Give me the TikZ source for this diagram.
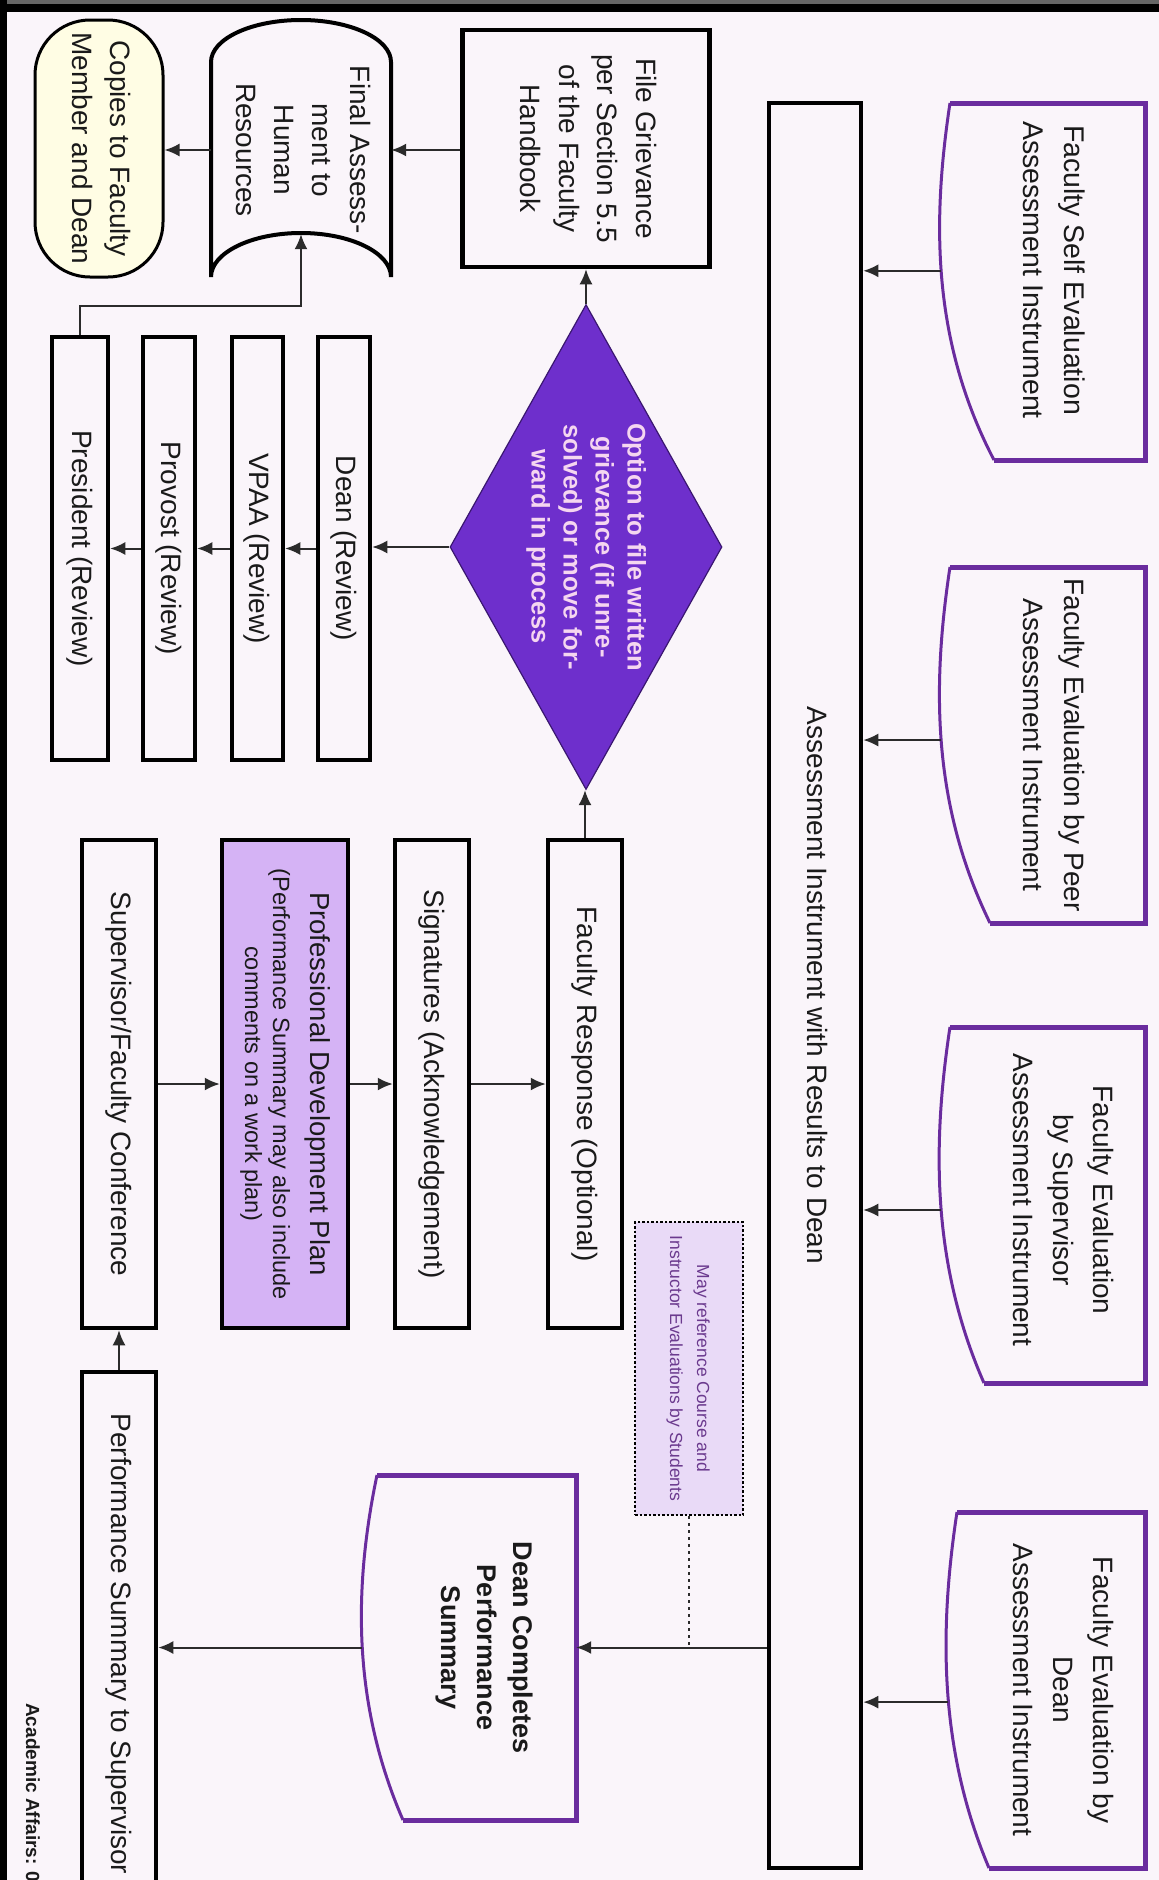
\documentclass[tikz,border=0pt]{standalone}
\usepackage{fontspec}
\setmainfont{Liberation Sans}
\usepackage{graphicx}
\usetikzlibrary{shapes.geometric,arrows.meta,calc}
\definecolor{bgc}{HTML}{FAF5FA}
\definecolor{linec}{HTML}{2B2B2B}
\definecolor{txtc}{HTML}{1A1A1A}
\definecolor{purpc}{HTML}{6A2C9E}
\definecolor{diafill}{HTML}{6E2FCC}
\definecolor{diaedge}{HTML}{3A1670}
\definecolor{diatext}{HTML}{F5D6F0}
\definecolor{pdpc}{HTML}{D5B3F5}
\definecolor{notec}{HTML}{E9DAF7}
\definecolor{notet}{HTML}{6B3A8E}
\definecolor{copiesc}{HTML}{FFFDE4}
\newcommand\fs[2]{\fontsize{#1}{#2}\selectfont}
\newcommand\rt[1]{\rotatebox[origin=c]{-90}{\begin{tabular}{@{}c@{}}#1\end{tabular}}}
\newcommand\docshape[8]{%
  \pgfmathsetmacro\docya{#2+(#3-#2)/3}%
  \pgfmathsetmacro\docyb{#2+2*(#3-#2)/3}%
  \pgfmathsetmacro\docxd{#1-#5}%
  \pgfmathsetmacro\docxe{#1+#6}%
  \fill[bgc] (#1,#2) -- (#4,#2) -- (#4,#3) -- (\docxe,#3) .. controls (\docxd,\docyb) and (\docxd,\docya) .. (#1,#2) -- cycle;
  \draw[docline] (#1,#2) -- (#4,#2) -- (#4,#3) -- (\docxe,#3);
  \draw[docwave] (#1,#2) .. controls (\docxd,\docya) and (\docxd,\docyb) .. (\docxe,#3) coordinate[pos=#7] (#8);
}
\begin{document}
\begin{tikzpicture}[x=1pt,y=-1pt,
  box/.style={draw=black, line width=4.5pt, fill=bgc, inner sep=0pt, rectangle, text=txtc},
  lbl/.style={inner sep=0pt, text=txtc},
  arr/.style={-{Latex[length=15pt,width=13pt]}, line width=2pt, draw=linec},
  docline/.style={draw=purpc, line width=5pt},
  docwave/.style={draw=purpc, line width=3pt},
  dotline/.style={draw=linec, line width=1.6pt, dash pattern=on 3pt off 4pt}]
\useasboundingbox (0,0) rectangle (1159,1880);
\clip (0,0) rectangle (1159,1880);
\fill[bgc] (0,0) rectangle (1159,1880);

% document shapes
\docshape{950}{103}{460}{1145}{18}{44}{0.47}{d1w}
\docshape{950}{567}{923}{1145}{18}{40}{0.486}{d2w}
\docshape{950}{1027}{1383}{1145}{18}{34}{0.514}{d3w}
\docshape{957}{1512}{1868}{1145}{18}{32}{0.534}{d4w}
\docshape{377}{1475}{1820}{576}{24}{26}{0.5}{dcw}

\node[lbl, font=\fs{28.5}{41}] (d1) at (1052,270) {\rt{Faculty Self Evaluation\\Assessment Instrument}};
\node[lbl, font=\fs{28}{41}] (d2) at (1052,745) {\rt{Faculty Evaluation by Peer\\Assessment Instrument}};
\node[lbl, font=\fs{28}{40}] (d3) at (1061,1200) {\rt{Faculty Evaluation\\by Supervisor\\Assessment Instrument}};
\node[lbl, font=\fs{28}{40}] (d4) at (1061,1690) {\rt{Faculty Evaluation by\\Dean\\Assessment Instrument}};
\node[lbl, minimum width=182pt, minimum height=345pt, font=\bfseries\fs{27}{36}] (dc) at (485,1647.5) {\rt{Dean Completes\\Performance\\Summary}};

% tall rectangle
\node[box, minimum width=92pt, minimum height=1765pt, font=\fs{28}{38}] (tall) at (815,985.5) {\rt{Assessment Instrument with Results to Dean}};

% grievance
\node[box, minimum width=247pt, minimum height=237pt, font=\fs{28}{38.5}] (fg) at (586,148.5) {\rt{File Grievance\\per Section 5.5\\of the Faculty\\Handbook}};

% final assessment (stored data)
\draw[draw=black, line width=4pt, fill=bgc] (211,62) .. controls (211,39) and (251,20) .. (301,20) .. controls (351,20) and (391,39) .. (391,62) -- (391,277) .. controls (391,253) and (351,233) .. (301,233) .. controls (251,233) and (211,253) .. (211,277) -- cycle;
\node[lbl, minimum width=180pt, minimum height=166pt, font=\fs{28}{38}] (final) at (301,150) {\rt{Final Assess-\\ment to\\Human\\Resources}};

% copies
\node[draw=black, line width=3pt, fill=copiesc, rounded corners=55pt, minimum width=128pt, minimum height=257pt, inner sep=0pt, text=txtc, font=\fs{28}{38}] (copies) at (99,148.5) {\rt{Copies to Faculty\\Member and Dean}};

% diamond
\node[diamond, aspect=0.56, draw=diaedge, line width=1.2pt, fill=diafill, minimum width=272pt, minimum height=485pt, inner sep=0pt, text=diatext, font=\bfseries\fs{25.5}{32}] (dia) at (586,547) {\rt{Option to file written\\grievance (if unre-\\solved) or move for-\\ward in process}};

% review boxes
\node[box, minimum width=52pt, minimum height=423pt, font=\fs{28}{38}] (rdean) at (344,548.5) {\rt{Dean (Review)}};
\node[box, minimum width=51pt, minimum height=423pt, font=\fs{28}{38}] (rvpaa) at (257.5,548.5) {\rt{VPAA (Review)}};
\node[box, minimum width=52pt, minimum height=423pt, font=\fs{28}{38}] (rprov) at (169,548.5) {\rt{Provost (Review)}};
\node[box, minimum width=56pt, minimum height=423pt, font=\fs{28}{38}] (rpres) at (80,548.5) {\rt{President (Review)}};

% lower column
\node[box, minimum width=74pt, minimum height=488pt, font=\fs{28}{38}] (fr) at (585,1084) {\rt{Faculty Response (Optional)}};
\node[box, minimum width=74pt, minimum height=488pt, font=\fs{28}{38}] (sig) at (432,1084) {\rt{Signatures (Acknowledgement)}};
\node[box, fill=pdpc, minimum width=126pt, minimum height=488pt, font=\fs{27.5}{37}] (pdp) at (285,1084) {\rt{Professional Development Plan\\{\fs{23.5}{28}(Performance Summary may also include}\\[-9pt]{\fs{23.5}{28}comments on a work plan)}}};
\node[box, minimum width=74pt, minimum height=488pt, font=\fs{28}{38}] (sfc) at (119,1084) {\rt{Supervisor/Faculty Conference}};
\node[box, minimum width=74pt, minimum height=544pt, font=\fs{28}{38}] (perf) at (119,1644) {\rt{Performance Summary to Supervisor}};

% note
\node[draw=black, line width=2.5pt, dash pattern=on 2.5pt off 2pt, fill=notec, minimum width=108pt, minimum height=293pt, inner sep=0pt, text=notet, font=\fs{17.5}{27}] (note) at (689,1368.5) {\rt{May reference Course and\\Instructor Evaluations by Students}};

% footer text
\node[inner sep=0pt, anchor=north, text=txtc, font=\bfseries\fs{19}{23}] (acad) at (33,1703) {\rotatebox{-90}{Academic Affairs: 02}};

% connectors
\draw[arr] (d1w) -- (d1w -| tall.east);
\draw[arr] (d2w) -- (d2w -| tall.east);
\draw[arr] (d3w) -- (d3w -| tall.east);
\draw[arr] (d4w) -- (d4w -| tall.east);
\draw[arr] (fg.west |- final.east) -- (final.east);
\draw[arr] (final.west) -- (final.west -| copies.east);
\draw[arr] (dia.north) -- (dia.north |- fg.south);
\draw[arr] (dia.west) -- (dia.west -| rdean.east);
\draw[arr] (rdean.west) -- (rdean.west -| rvpaa.east);
\draw[arr] (rvpaa.west) -- (rvpaa.west -| rprov.east);
\draw[arr] (rprov.west) -- (rprov.west -| rpres.east);
\draw[arr, line width=1.8pt] (rpres.north) -- ++(0,-29) -| (final.south);
\draw[arr] (fr.north) -- (fr.north |- dia.south);
\draw[arr] (sig.east) -- (fr.west);
\draw[arr] (pdp.east) -- (sig.west);
\draw[arr] (sfc.east) -- (pdp.west);
\draw[arr] (perf.north) -- (sfc.south);
\draw[arr] (dc.east -| tall.west) -- (dc.east);
\draw[arr] (dcw) -- (dcw -| perf.east);
\draw[dotline] (note.south) -- (note.south |- dc.east);

% frame
\fill[black] (0,0) rectangle (1159,12);
\fill[black!60] (0,0) rectangle (1159,4);
\fill[black] (0,0) rectangle (7,1880);
\end{tikzpicture}
\end{document}
